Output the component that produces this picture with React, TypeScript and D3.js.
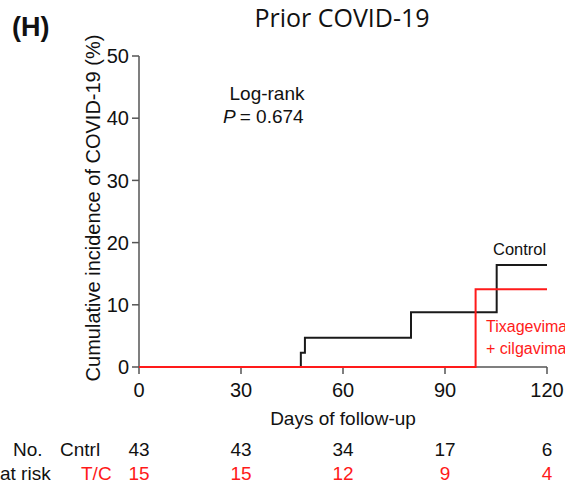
import React from "react";
import * as d3 from "d3";

// Kaplan–Meier cumulative incidence steps (day, %)
const controlDays = [0, 47.6, 48.8, 80, 105.2, 120];
const controlPct = [0, 2.3, 4.7, 8.8, 16.4, 16.4];
const tcDays = [0, 99, 120];
const tcPct = [0, 12.5, 12.5];

const xTicks = [0, 30, 60, 90, 120];
const yTicks = [0, 10, 20, 30, 40, 50];
const atRiskControl = [43, 43, 34, 17, 6];
const atRiskTC = [15, 15, 12, 9, 4];

const W = 565;
const H = 484;
const FONT = "'Liberation Sans', Arial, Helvetica, sans-serif";
const RED = "#ff1a1a";
const AXIS = "#555";

export default function App() {
  const x = d3.scaleLinear().domain([0, 120]).range([139, 547]);
  const y = d3.scaleLinear().domain([0, 50]).range([367, 56]);

  const line = d3
    .line<[number, number]>()
    .x((d) => x(d[0]))
    .y((d) => y(d[1]))
    .curve(d3.curveStepAfter);

  const controlPts = controlDays.map((d, i) => [d, controlPct[i]] as [number, number]);
  const tcPts = tcDays.map((d, i) => [d, tcPct[i]] as [number, number]);

  return (
    <svg
      width={W}
      height={H}
      style={{ position: "absolute", left: 0, top: 0, background: "#fff" }}
      fontFamily={FONT}
    >
      <text x={12} y={36} fontSize={27} fontWeight="bold" fill="#111">
        (H)
      </text>
      <text
        x={342}
        y={27}
        fontSize={25}
        textAnchor="middle"
        fill="#111"
        fontFamily="'Open Sans', 'Noto Sans', sans-serif"
      >
        Prior COVID-19
      </text>

      {/* y axis */}
      <line x1={x(0)} x2={x(0)} y1={y(0)} y2={y(50)} stroke={AXIS} strokeWidth={1.5} />
      {yTicks.map((t) => (
        <g key={"y" + t}>
          <line x1={x(0) - 7} x2={x(0)} y1={y(t)} y2={y(t)} stroke={AXIS} strokeWidth={1.5} />
          <text
            x={x(0) - 10}
            y={y(t)}
            dy="0.36em"
            textAnchor="end"
            fontSize={20}
            fill="#111"
          >
            {t}
          </text>
        </g>
      ))}
      <text
        transform={`translate(100, 208) rotate(-90)`}
        textAnchor="middle"
        fontSize={20}
        fill="#111"
      >
        Cumulative incidence of COVID-19 (%)
      </text>

      {/* x axis */}
      <line x1={x(0)} x2={x(120)} y1={y(0)} y2={y(0)} stroke={AXIS} strokeWidth={1.5} />
      {xTicks.map((t) => (
        <g key={"x" + t}>
          <line x1={x(t)} x2={x(t)} y1={y(0)} y2={y(0) + 7} stroke={AXIS} strokeWidth={1.5} />
          <text x={x(t)} y={397} textAnchor="middle" fontSize={20} fill="#111">
            {t}
          </text>
        </g>
      ))}
      <text x={343} y={425} textAnchor="middle" fontSize={19} fill="#111">
        Days of follow-up
      </text>

      {/* curves */}
      <path d={line(controlPts) ?? ""} fill="none" stroke="#1a1a1a" strokeWidth={2} />
      <path d={line(tcPts) ?? ""} fill="none" stroke={RED} strokeWidth={2} />

      {/* annotations */}
      <text x={267} y={100} textAnchor="middle" fontSize={19} fill="#111">
        Log-rank
      </text>
      <text x={223} y={123} fontSize={19} fill="#111">
        <tspan fontStyle="italic">P</tspan>
        <tspan dx={4}>= 0.674</tspan>
      </text>
      <text x={493} y={255} fontSize={16.5} fill="#111">
        Control
      </text>
      <text x={486} y={332} fontSize={16} fill={RED}>
        Tixagevimab
      </text>
      <text x={486} y={354} fontSize={16} fill={RED}>
        + cilgavimab
      </text>

      {/* number at risk */}
      <text x={13} y={456} fontSize={19} fill="#111">
        No.
      </text>
      <text x={60} y={456} fontSize={19} fill="#111">
        Cntrl
      </text>
      <text x={0} y={480} fontSize={19} fill="#111">
        at risk
      </text>
      <text x={81} y={480} fontSize={19} fill={RED}>
        T/C
      </text>
      {atRiskControl.map((n, i) => (
        <text key={"c" + i} x={x(xTicks[i])} y={456} textAnchor="middle" fontSize={19} fill="#111">
          {n}
        </text>
      ))}
      {atRiskTC.map((n, i) => (
        <text key={"t" + i} x={x(xTicks[i])} y={480} textAnchor="middle" fontSize={19} fill={RED}>
          {n}
        </text>
      ))}
    </svg>
  );
}
